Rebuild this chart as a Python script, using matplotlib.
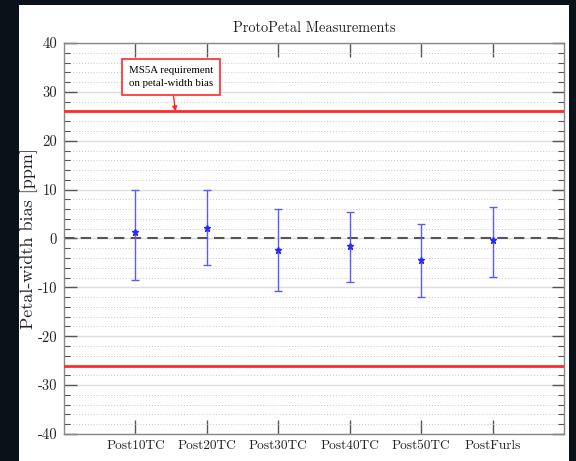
import matplotlib
matplotlib.use("Agg")
import matplotlib.pyplot as plt
from matplotlib.patches import Rectangle
from matplotlib.ticker import MultipleLocator, FuncFormatter

plt.rcParams["font.family"] = ["cmr10", "DejaVu Serif"]
plt.rcParams["axes.unicode_minus"] = False
plt.rcParams["mathtext.fontset"] = "cm"

# petal-width bias after each thermal cycle step [ppm]
stages = ["Post10TC", "Post20TC", "Post30TC", "Post40TC", "Post50TC", "PostFurls"]
bias = [1.3, 2.1, -2.4, -1.6, -4.5, -0.4]
err_low = [9.7, 7.6, 8.3, 7.3, 7.5, 7.4]
err_high = [8.7, 7.9, 8.5, 7.1, 7.5, 6.8]
requirement = 26

x = list(range(1, len(stages) + 1))

fig = plt.figure(figsize=(5.76, 4.61), dpi=100)
fig.patch.set_facecolor("#0a1119")
# white panel behind the plot
fig.patches.append(Rectangle((19 / 576, 0), 550 / 576, 456 / 461,
                             transform=fig.transFigure, facecolor="white",
                             edgecolor="none", zorder=-10))

ax = fig.add_axes([64 / 576, 27 / 461, 500 / 576, 391 / 461])
ax.set_zorder(1)
ax.set_facecolor("white")

ax.set_xlim(0, 7)
ax.set_ylim(-40, 40)

ax.yaxis.set_major_locator(MultipleLocator(10))
ax.yaxis.set_minor_locator(MultipleLocator(2))
ax.yaxis.set_major_formatter(FuncFormatter(lambda v, p: "%d" % v))
ax.set_xticks(x)
ax.set_xticklabels(stages)

ax.grid(which="major", axis="y", color="#dddddd", lw=1.0, ls="-")
ax.grid(which="minor", axis="y", color="#c8c8c8", lw=0.7, ls=(0, (1, 2)))
ax.set_axisbelow(True)

ax.tick_params(which="both", direction="in", top=True, right=True, colors="#555555",
               labelcolor="#222222")
ax.tick_params(axis="x", which="major", length=10, width=1, pad=4, labelsize=9.6)
ax.tick_params(axis="y", which="major", length=9, width=1, pad=5, labelsize=10.5)
ax.tick_params(axis="y", which="minor", length=4, width=0.8)
for s in ax.spines.values():
    s.set_color("#888888")
    s.set_linewidth(1.0)

ax.axhline(requirement, color="#ff2a2a", lw=2.0, zorder=3)
ax.axhline(-requirement, color="#ff2a2a", lw=2.0, zorder=3)
ax.axhline(0, color="#555555", lw=1.5, ls=(0, (5, 3)), zorder=2)

ax.errorbar(x, bias, yerr=[err_low, err_high], fmt="*", color="#2a2aff",
            ecolor="#5a5aff", elinewidth=1.0, capsize=3, capthick=1.0,
            markersize=4.5, zorder=4)

ax.annotate("MS5A requirement\non petal-width bias", xy=(1.56, requirement),
            xytext=(1.5, 33), ha="center", va="center", fontsize=7.8,
            family="Liberation Serif", linespacing=1.55,
            bbox=dict(boxstyle="square,pad=0.65", fc="white", ec="#ff2a2a", lw=1.2),
            arrowprops=dict(arrowstyle="-|>", color="#ff2a2a", lw=1.0,
                            mutation_scale=7, shrinkA=0, shrinkB=0),
            zorder=5)

ax.set_title("ProtoPetal Measurements", fontsize=10.4, color="#222222", pad=8)
ax.set_ylabel("Petal-width bias [ppm]", fontsize=13, color="#222222")
ax.yaxis.set_label_coords(-0.052, 0.5)

fig.savefig("out.png", dpi=100, facecolor=fig.get_facecolor())
